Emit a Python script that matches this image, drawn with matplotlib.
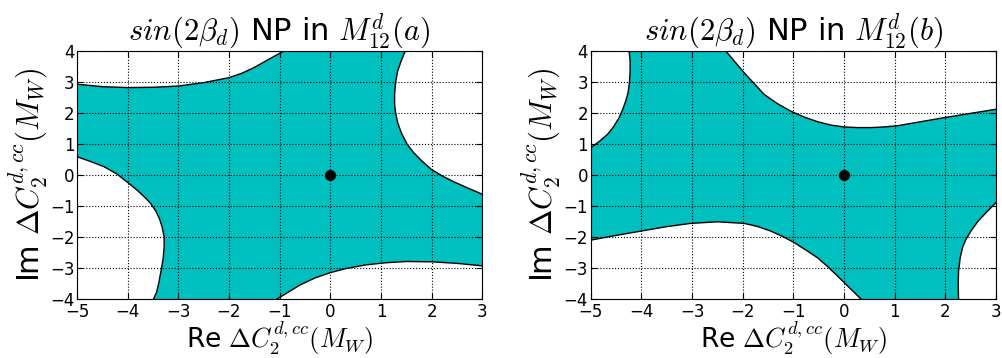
import numpy as np
import matplotlib
matplotlib.use('Agg')
from matplotlib import pyplot as plt

plt.rcParams['mathtext.fontset'] = 'cm'
plt.rcParams['font.family'] = ['DejaVu Sans']
plt.rcParams['xtick.direction'] = 'in'
plt.rcParams['ytick.direction'] = 'in'
plt.rcParams['xtick.top'] = True
plt.rcParams['ytick.right'] = True

xlim = (-5, 3)
ylim = (-4, 4)
xticks = [-5, -4, -3, -2, -1, 0, 1, 2, 3]
yticks = [-4, -3, -2, -1, 0, 1, 2, 3, 4]
sm_point = (0, 0)

titles = [r'$sin(2\beta_d)$ NP in $M_{12}^d(a)$',
          r'$sin(2\beta_d)$ NP in $M_{12}^d(b)$']
xlabel = r'Re $\Delta C_2^{d,cc}(M_W)$'
ylabel = r'Im $\Delta C_2^{d,cc}(M_W)$'

# panel (a): boundaries of the excluded (white) regions
a_tl_x = [-5, -4.5, -4, -3.5, -3, -2.5, -2, -1.75, -1.5, -1.25, -1.05, -0.92]
a_tl_y = [2.93, 2.85, 2.82, 2.83, 2.87, 2.98, 3.14, 3.28, 3.47, 3.70, 3.88, 4.0]
a_bl_x = [-5, -4.74, -4.47, -4.21, -4.0, -3.82, -3.68, -3.55, -3.45, -3.37,
          -3.32, -3.28, -3.28, -3.30, -3.34, -3.39, -3.43, -3.49]
a_bl_y = [0.59, 0.44, 0.27, 0.03, -0.24, -0.48, -0.69, -0.91, -1.15, -1.42,
          -1.68, -2.0, -2.33, -2.70, -3.08, -3.51, -3.78, -4.0]
a_tr_x = [1.48, 1.40, 1.33, 1.29, 1.27, 1.27, 1.29, 1.33, 1.40, 1.515, 1.647,
          1.81, 1.996, 2.21, 2.44, 2.70, 3.0]
a_tr_y = [4.0, 3.68, 3.35, 3.0, 2.60, 2.28, 2.0, 1.69, 1.37, 1.0, 0.72,
          0.45, 0.18, -0.03, -0.22, -0.41, -0.62]
a_br_x = [-1.05, -0.85, -0.6, -0.3, 0, 0.3, 0.7, 1.1, 1.5, 2, 2.5, 3]
a_br_y = [-4.0, -3.8, -3.55, -3.32, -3.15, -3.02, -2.9, -2.83, -2.79, -2.8, -2.85, -2.93]

# panel (b)
b_tl_x = [-4.243, -4.223, -4.223, -4.236, -4.263, -4.309, -4.368, -4.44,
          -4.552, -4.67, -4.835, -5]
b_tl_y = [4.0, 3.68, 3.35, 3.0, 2.66, 2.39, 2.12, 1.85, 1.55, 1.31, 1.08, 0.88]
b_tr_x = [-2.334, -2.169, -1.972, -1.774, -1.577, -1.313, -1.05, -0.787, -0.523,
          -0.26, 0.003, 0.267, 0.53, 0.793, 1.057, 1.517, 1.978, 2.505, 3.0]
b_tr_y = [4.0, 3.68, 3.30, 2.95, 2.60, 2.30, 2.06, 1.87, 1.72, 1.61, 1.55,
          1.53, 1.53, 1.55, 1.59, 1.72, 1.85, 1.99, 2.12]
b_bl_x = [-5, -4.506, -4.012, -3.519, -3.025, -2.498, -1.972, -1.708, -1.445,
          -1.215, -0.984, -0.754, -0.523, -0.326, -0.128, 0.102, 0.333]
b_bl_y = [-2.10, -1.95, -1.81, -1.67, -1.56, -1.51, -1.56, -1.66, -1.81,
          -1.98, -2.18, -2.42, -2.67, -2.95, -3.26, -3.63, -4.0]
b_br_x = [2.261, 2.255, 2.261, 2.294, 2.34, 2.406, 2.505, 2.637, 2.801, 3.0]
b_br_y = [-4.0, -3.53, -3.10, -2.67, -2.34, -2.08, -1.81, -1.51, -1.22, -0.89]

panels = [
    [(a_tl_x, a_tl_y, 'tl'), (a_bl_x, a_bl_y, 'bl'),
     (a_tr_x, a_tr_y, 'tr'), (a_br_x, a_br_y, 'br')],
    [(b_tl_x, b_tl_y, 'tl'), (b_bl_x, b_bl_y, 'bl'),
     (b_tr_x, b_tr_y, 'tr'), (b_br_x, b_br_y, 'br')],
]


def corner(where):
    cx = xlim[0] if where[1] == 'l' else xlim[1]
    cy = ylim[1] if where[0] == 't' else ylim[0]
    return cx, cy


fig = plt.figure(figsize=(10.03, 3.58), dpi=100)
lefts = [0.0768, 0.589]
for i in range(2):
    ax = fig.add_axes([lefts[i], 0.1648, 0.404, 0.6927])
    ax.set_facecolor('c')
    for cx_, cy_, where in panels[i]:
        px, py = corner(where)
        ax.fill(list(cx_) + [px], list(cy_) + [py], facecolor='white',
                edgecolor='none', zorder=1)
        ax.plot(cx_, cy_, 'k-', lw=1, zorder=2)
    ax.plot(sm_point[0], sm_point[1], 'ko', markersize=7, zorder=4)
    ax.set_xlim(xlim)
    ax.set_ylim(ylim)
    ax.set_xticks(xticks)
    ax.set_yticks(yticks)
    ax.set_axisbelow(False)
    ax.grid(True, linestyle=':', color='k', lw=0.8)
    ax.tick_params(labelsize=12, length=4)
    ax.tick_params(axis='x', pad=3)
    ax.tick_params(axis='y', pad=2)
    ax.set_title(titles[i], fontsize=22, pad=3)
    ax.set_xlabel(xlabel, fontsize=19, labelpad=-1)
    ax.set_ylabel(ylabel, fontsize=22, labelpad=0)

plt.savefig('out.png', dpi=100)
